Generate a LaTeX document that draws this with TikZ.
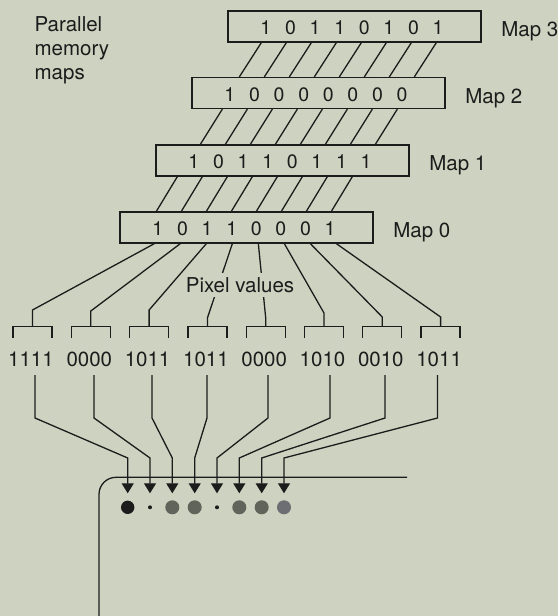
\documentclass[tikz,border=0pt]{standalone}
\usepackage{fontspec}
\setmainfont{TeX Gyre Heros}
\usetikzlibrary{arrows.meta,calc}
\definecolor{bg}{RGB}{206,210,192}
\definecolor{ink}{RGB}{28,28,28}
\definecolor{dotgrey}{RGB}{96,100,90}
\definecolor{dotgreyb}{RGB}{108,110,116}
\newcommand\bitrow[8]{\rule{0pt}{17pt}\makebox[24.6pt]{#1}\makebox[24.6pt]{#2}\makebox[24.6pt]{#3}\makebox[24.6pt]{#4}\makebox[24.6pt]{#5}\makebox[24.6pt]{#6}\makebox[24.6pt]{#7}\makebox[24.6pt]{#8}\hspace*{5pt}}
\begin{document}
\begin{tikzpicture}[x=1pt,y=-1pt,line width=1.3pt,
  every node/.style={text=ink,inner sep=0pt,font=\fontsize{20.5}{24}\selectfont},
  mapbox/.style={draw=ink,line width=1.3pt,minimum width=253pt,minimum height=31pt,font=\fontsize{19.5}{22}\selectfont},
  wire/.style={draw=ink,line width=1.3pt},
  arr/.style={wire,-{Triangle[width=12pt,length=10pt]}},
  valtext/.style={font=\fontsize{20.5}{24}\selectfont},
  bigdot/.style={circle,fill=#1,minimum size=14pt},
  smalldot/.style={circle,fill=ink,minimum size=4pt}]
\fill[bg] (0,0) rectangle (558,616);
\useasboundingbox (0,0) rectangle (558,616);

% memory maps
\node[mapbox] (m3) at (354.5,26.5) {\bitrow 10110101};
\node[mapbox] (m2) at (318.5,93) {\bitrow 10000000};
\node[mapbox] (m1) at (282.5,160.5) {\bitrow 10110111};
\node[mapbox] (m0) at (246.5,227.5) {\bitrow 10110001};

\node[anchor=base west] (t3) at ($(m3.east)+(19,10)$) {Map 3};
\node[anchor=base west] (t2) at ($(m2.east)+(19,10)$) {Map 2};
\node[anchor=base west] (t1) at ($(m1.east)+(19,10)$) {Map 1};
\node[anchor=base west] (t0) at ($(m0.east)+(19,10)$) {Map 0};

\node[anchor=base west] (pa) at (34,31.5) {Parallel};
\node[anchor=base west] (pb) at (34,55.5) {memory};
\node[anchor=base west] (pc) at (34,79.5) {maps};

% hatching between maps
\foreach \k in {0,...,7} {
  \draw[wire] ($(m3.south west)+(34+25*\k,0)$) -- ($(m2.north west)+(48+25*\k,0)$);
  \draw[wire] ($(m2.south west)+(31+25*\k,0)$) -- ($(m1.north west)+(45+25*\k,0)$);
  \draw[wire] ($(m1.south west)+(22+25*\k,0)$) -- ($(m0.north west)+(37+25*\k,0)$);
}

% brackets and pixel values
\foreach \i/\c/\t in {1/32.5/1111,2/90.8/0000,3/149.1/1011,4/207.4/1011,5/265.7/0000,6/324/1010,7/382.3/0010,8/440.6/1011} {
  \coordinate (b\i) at (\c,326.7);
  \draw[wire] (\c-19.5,338) -- (\c-19.5,326.7) -- (\c+19.5,326.7) -- (\c+19.5,338);
  \node[valtext] (v\i) at (\c-1.5,359) {\t};
}

% fan-out from Map 0
\draw[wire] ($(m0.south west)+(35,0)$) -- (32.5,310) -- (b1);
\draw[wire] ($(m0.south west)+(61,0)$) -- (90.8,311) -- (b2);
\draw[wire] ($(m0.south west)+(87,0)$) -- (149.1,310) -- (b3);
\draw[wire] ($(m0.south west)+(113,0)$) -- (207.4,318) -- (b4);
\draw[wire] ($(m0.south west)+(139,0)$) -- (265.7,318) -- (b5);
\draw[wire] ($(m0.south west)+(165,0)$) -- (324,313) -- (b6);
\draw[wire] ($(m0.south west)+(191,0)$) -- (382.3,317) -- (b7);
\draw[wire] ($(m0.south west)+(217,0)$) -- (440.6,317) -- (b8);
\node[fill=bg,inner ysep=4.5pt,inner xsep=0pt] (pv) at (240,285) {Pixel values};

% screen
\draw[wire,rounded corners=17pt] (99,616) -- (99,477.3) -- (407,477.3);

% pixels on screen
\node[bigdot=ink,minimum size=13.4pt] (p1) at (127.7,507.3) {};
\node[smalldot] (p2) at (150,507.3) {};
\node[bigdot=dotgrey] (p3) at (172.3,507.3) {};
\node[bigdot=dotgrey] (p4) at (194.7,507.3) {};
\node[smalldot] (p5) at (217,507.3) {};
\node[bigdot=dotgrey] (p6) at (239.3,507.3) {};
\node[bigdot=dotgrey] (p7) at (261.7,507.3) {};
\node[bigdot=dotgreyb] (p8) at (284,507.3) {};

% arrows from values to pixels
\foreach \i/\v/\a in {1/35/127.7,2/94/150,3/152/172.3,4/207/194.7,5/268/217,6/330/239.3,7/385/261.7,8/437.5/284} {
  \coordinate (s\i) at (\v,375);
  \draw[arr] (s\i) -- (\v,418) -- (\a,458) -- ($(p\i.center)+(0,-14)$);
}
\end{tikzpicture}
\end{document}
